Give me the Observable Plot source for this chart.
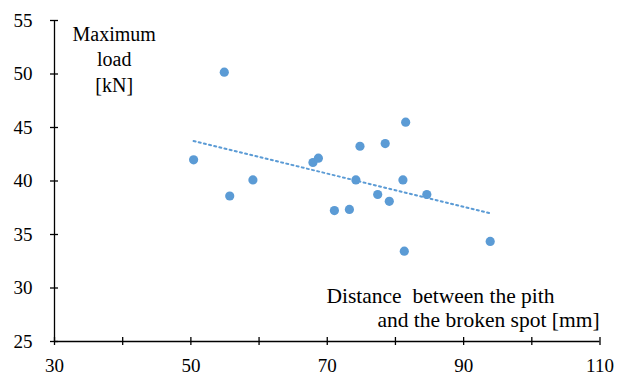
<!DOCTYPE html>
<html>
<head>
<meta charset="utf-8">
<script src="https://cdn.jsdelivr.net/npm/d3@7"></script>
<script src="https://cdn.jsdelivr.net/npm/@observablehq/plot@0.6"></script>
<style>
  html, body { margin: 0; padding: 0; background: #fff; }
  #chart svg { display: block; }
</style>
</head>
<body>
<div id="chart"></div>
<script>
// Distance between the pith and the broken spot [mm]
const distance = [54.9, 50.4, 59.1, 55.7, 67.9, 68.7, 81.5, 74.8, 78.5, 74.2, 81.1, 77.4, 84.6, 79.1, 71.05, 73.25, 81.3, 93.9];
// Maximum load [kN]
const maxLoad = [50.17, 41.98, 40.1, 38.6, 41.73, 42.13, 45.5, 43.25, 43.5, 40.1, 40.1, 38.74, 38.74, 38.1, 37.24, 37.34, 33.44, 34.35];

const xTicks = [30, 40, 50, 60, 70, 80, 90, 100, 110];
const xTickLabels = ["30", "", "50", "", "70", "", "90", "", "110"];
const yTicks = [25, 30, 35, 40, 45, 50, 55];

const yLabelText = "Maximum\nload\n[kN]";
const xLabelLine1 = "Distance\u00a0\u00a0between the pith";
const xLabelLine2 = "and the broken spot [mm]";

const data = distance.map((d, i) => ({x: d, y: maxLoad[i]}));
const blue = "#5B9BD5";
const font = "Liberation Serif, Times New Roman, serif";

const chart = Plot.plot({
  width: 619,
  height: 376,
  marginLeft: 54,
  marginRight: 19.5,
  marginTop: 20,
  marginBottom: 35,
  style: {fontFamily: font, fontSize: "19px", color: "#000", background: "#fff"},
  x: {domain: [30, 110]},
  y: {domain: [25, 55]},
  marks: [
    Plot.axisX({ticks: xTicks, tickSize: 0, tickPadding: 17, tickFormat: d => xTickLabels[xTicks.indexOf(d)], fontSize: 19, label: null}),
    Plot.axisY({ticks: yTicks, tickSize: 0, tickPadding: 22, fontSize: 19, label: null}),
    Plot.ruleY([25], {stroke: "#000", strokeWidth: 1.3}),
    Plot.ruleX([30], {stroke: "#000", strokeWidth: 1.3}),
    Plot.ruleX(xTicks, {x: d => d, y1: 25, y2: 25, insetTop: -4, insetBottom: -4, stroke: "#000", strokeWidth: 1.3}),
    Plot.ruleY(yTicks, {y: d => d, x1: 30, x2: 30, insetLeft: -4, insetRight: -4, stroke: "#000", strokeWidth: 1.3}),
    Plot.linearRegressionY(data, {x: "x", y: "y", ci: 0, stroke: blue, strokeWidth: 2, strokeDasharray: "2,3.3"}),
    Plot.dot(data, {x: "x", y: "y", r: 4.6, fill: blue, stroke: null}),
    Plot.text([yLabelText], {x: 38.75, y: 54.8, text: d => d, lineAnchor: "top", lineHeight: 1.275, fontSize: 20, fill: "#000"}),
    Plot.text([xLabelLine1], {x: 69.88, y: 28.64, text: d => d, textAnchor: "start", lineAnchor: "bottom", fontSize: 21.5, fill: "#000"}),
    Plot.text([xLabelLine2], {x: 77.36, y: 26.4, text: d => d, textAnchor: "start", lineAnchor: "bottom", fontSize: 21.5, fill: "#000"})
  ]
});

document.getElementById("chart").appendChild(chart);
</script>
</body>
</html>
